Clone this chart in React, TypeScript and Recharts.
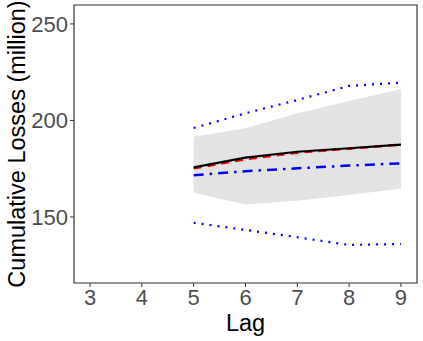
import React from "react"
import {
    ComposedChart,
    Area,
    Line,
    XAxis,
    YAxis,
    ReferenceArea,
} from "recharts"

// lag values and the series
const lags = [5, 6, 7, 8, 9]
const bandLow = [162.6, 156.4, 158.4, 161.4, 164.7]
const bandHigh = [191.6, 196.0, 203.7, 210.1, 216.2]
const observed = [175.7, 180.7, 183.8, 185.6, 187.5]
const estimate = [175.2, 179.9, 183.3, 185.4, 187.5]
const centre = [171.6, 173.7, 175.2, 176.6, 177.8]
const upperDots = [196.1, 203.7, 210.6, 217.9, 219.6]
const lowerDots = [147.0, 143.3, 139.5, 135.5, 136.0]

const xTicks = [3, 4, 5, 6, 7, 8, 9]
const yTicks = [150, 200, 250]

const data = lags.map((lag, i) => ({
    lag,
    band: [bandLow[i], bandHigh[i]],
    observed: observed[i],
    estimate: estimate[i],
    centre: centre[i],
    upper: upperDots[i],
    lower: lowerDots[i],
}))

const font = "'Liberation Sans', Arial, sans-serif"
const xDomain: [number, number] = [2.69, 9.31]
const yDomain: [number, number] = [115.8, 259.8]

export default function App() {
    return (
        <div style={{ position: "absolute", left: 0, top: 0, width: 423, height: 341, background: "#fff" }}>
            <ComposedChart
                width={423}
                height={341}
                data={data}
                margin={{ top: 5, right: 6, left: 0, bottom: 0 }}
            >
                <XAxis
                    dataKey="lag"
                    type="number"
                    domain={xDomain}
                    ticks={xTicks}
                    allowDataOverflow
                    height={58}
                    tickSize={4}
                    tickMargin={2}
                    axisLine={false}
                    tickLine={{ stroke: "#333333" }}
                    tick={{ fill: "#4D4D4D", fontSize: 22, fontFamily: font }}
                    label={{
                        value: "Lag",
                        position: "insideBottom",
                        offset: 10,
                        style: { fill: "#000", fontSize: 23.5, fontFamily: font },
                    }}
                />
                <YAxis
                    type="number"
                    domain={yDomain}
                    ticks={yTicks}
                    allowDataOverflow
                    width={74}
                    tickSize={4}
                    tickMargin={2}
                    axisLine={false}
                    tickLine={{ stroke: "#333333" }}
                    tick={{ fill: "#4D4D4D", fontSize: 22, fontFamily: font }}
                    label={{
                        value: "Cumulative Losses (million)",
                        angle: -90,
                        position: "insideLeft",
                        offset: 17,
                        style: { fill: "#000", fontSize: 23.5, fontFamily: font, textAnchor: "middle" },
                    }}
                />
                <Area
                    dataKey="band"
                    stroke="none"
                    fill="#E3E3E3"
                    fillOpacity={1}
                    isAnimationActive={false}
                />
                <Line dataKey="upper" stroke="#0000FF" strokeWidth={2.2} strokeDasharray="2 6" dot={false} isAnimationActive={false} />
                <Line dataKey="lower" stroke="#0000FF" strokeWidth={2.2} strokeDasharray="2 6" dot={false} isAnimationActive={false} />
                <Line dataKey="centre" stroke="#0000FF" strokeWidth={2.5} strokeDasharray="10 6 2.5 6" dot={false} isAnimationActive={false} />
                <Line dataKey="estimate" stroke="#FF0000" strokeWidth={2.5} strokeDasharray="8 6" dot={false} isAnimationActive={false} />
                <Line dataKey="observed" stroke="#000000" strokeWidth={2.2} dot={false} isAnimationActive={false} />
                <ReferenceArea
                    x1={xDomain[0]}
                    x2={xDomain[1]}
                    y1={yDomain[0]}
                    y2={yDomain[1]}
                    fill="none"
                    stroke="#333333"
                    strokeWidth={1.2}
                    ifOverflow="visible"
                />
            </ComposedChart>
        </div>
    )
}
